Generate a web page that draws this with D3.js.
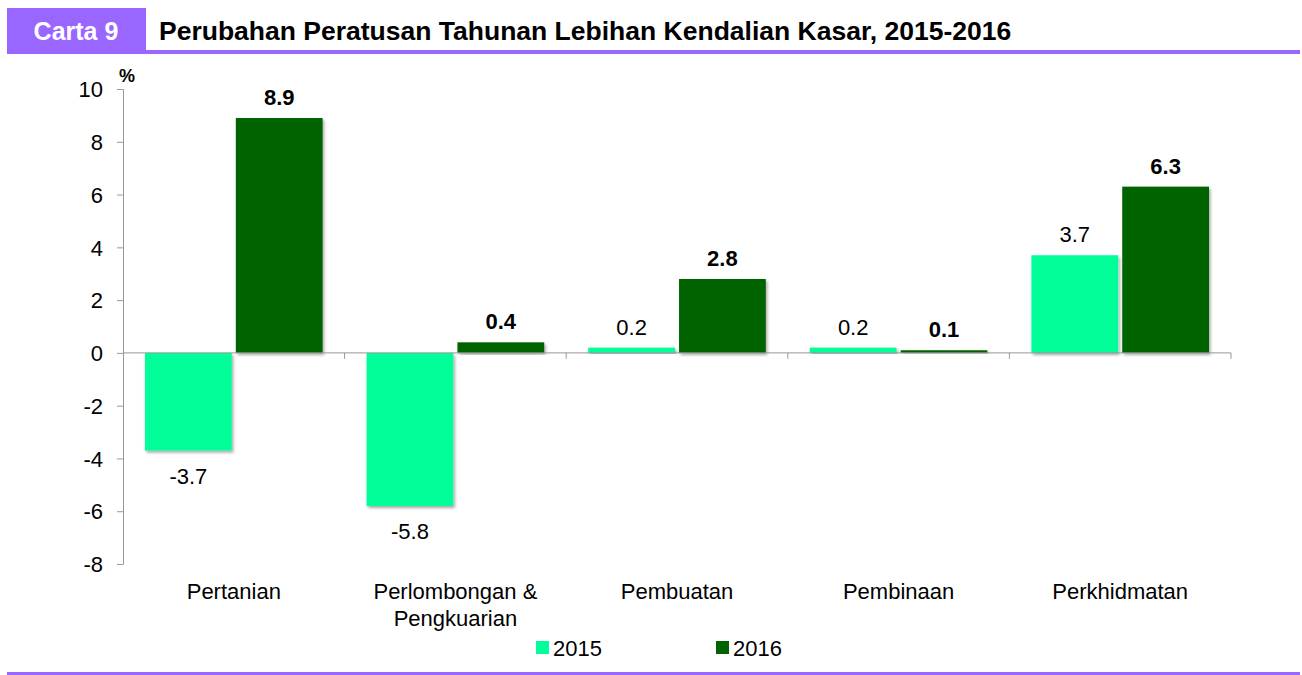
<!DOCTYPE html>
<html>
<head>
<meta charset="utf-8">
<script src="https://cdn.jsdelivr.net/npm/d3@7"></script>
<style>
  body { margin: 0; background: #fff; }
  svg { display: block; font-family: "Liberation Sans", Arial, sans-serif; }
  .axis path, .axis line { stroke: #999; }
  .axis text { fill: #000; font-size: 22px; font-family: "Liberation Sans", Arial, sans-serif; }
</style>
</head>
<body>
<div id="chart"></div>
<script>
const categories = ['Pertanian', 'Perlombongan & Pengkuarian', 'Pembuatan', 'Pembinaan', 'Perkhidmatan'];
const series = ['2015', '2016'];
const values2015 = [-3.7, -5.8, 0.2, 0.2, 3.7];
const values2016 = [8.9, 0.4, 2.8, 0.1, 6.3];
const yTicks = [-8, -6, -4, -2, 0, 2, 4, 6, 8, 10];
const colors = ['#00ff99', '#006400'];

const width = 1302, height = 675;
const purple = '#9966ff';
// pakai tanda sempang biasa, bukan tanda tolak unicode
const fmt = d3.formatLocale({ decimal: '.', thousands: ',', grouping: [3], currency: ['', ''], minus: '-' });
const fmtVal = fmt.format('.1f');
const fmtTick = fmt.format('d');

const svg = d3.select('#chart').append('svg')
    .attr('width', width)
    .attr('height', height);

// bayang bar
const defs = svg.append('defs');
defs.append('filter')
    .attr('id', 'shadow')
    .attr('x', '-10%').attr('y', '-10%')
    .attr('width', '130%').attr('height', '130%')
    .append('feDropShadow')
    .attr('dx', 1.5).attr('dy', 2)
    .attr('stdDeviation', 1.5)
    .attr('flood-color', '#000')
    .attr('flood-opacity', 0.35);

// tajuk
svg.append('rect')
    .attr('x', 7).attr('y', 8)
    .attr('width', 139).attr('height', 46)
    .attr('fill', purple);
svg.append('rect')
    .attr('x', 146).attr('y', 50)
    .attr('width', 1154).attr('height', 4)
    .attr('fill', purple);
svg.append('text')
    .attr('x', 76).attr('y', 40)
    .attr('text-anchor', 'middle')
    .attr('fill', '#fff')
    .attr('font-weight', 'bold')
    .attr('font-size', '25px')
    .text('Carta 9');
svg.append('text')
    .attr('x', 159).attr('y', 40)
    .attr('fill', '#000')
    .attr('font-weight', 'bold')
    .attr('font-size', '26.5px')
    .text('Perubahan Peratusan Tahunan Lebihan Kendalian Kasar, 2015-2016');

// garis bawah
svg.append('rect')
    .attr('x', 7).attr('y', 672)
    .attr('width', 1293).attr('height', 3)
    .attr('fill', purple);

const x = d3.scaleBand()
    .domain(categories)
    .range([123, 1231])
    .padding(0);

const xSub = d3.scaleBand()
    .domain(series)
    .range([22, x.bandwidth() - 22])
    .paddingInner(0.045);

const y = d3.scaleLinear()
    .domain([-8, 10])
    .range([564, 89]);

const data = categories.map((c, i) => ({
    category: c,
    items: [
        { key: '2015', value: values2015[i] },
        { key: '2016', value: values2016[i] }
    ]
}));

// paksi y
const yAxis = svg.append('g')
    .attr('class', 'axis')
    .attr('transform', 'translate(123,0)')
    .call(d3.axisLeft(y).tickValues(yTicks).tickSize(6).tickPadding(14).tickFormat(fmtTick));
yAxis.selectAll('text').attr('dy', '0.35em');

svg.append('text')
    .attr('x', 119).attr('y', 82)
    .attr('font-weight', 'bold')
    .attr('font-size', '18px')
    .text('%');

// bar
const groups = svg.selectAll('.group')
    .data(data)
    .enter()
    .append('g')
    .attr('class', 'group')
    .attr('transform', d => `translate(${x(d.category)},0)`);

groups.selectAll('rect')
    .data(d => d.items)
    .enter()
    .append('rect')
    .attr('x', d => xSub(d.key))
    .attr('width', xSub.bandwidth())
    .attr('y', d => y(Math.max(0, d.value)))
    .attr('height', d => Math.abs(y(d.value) - y(0)))
    .attr('fill', (d, i) => colors[i])
    .attr('filter', 'url(#shadow)');

groups.selectAll('.val')
    .data(d => d.items)
    .enter()
    .append('text')
    .attr('class', 'val')
    .attr('x', d => xSub(d.key) + xSub.bandwidth() / 2)
    .attr('y', d => d.value >= 0 ? y(d.value) - 13 : y(d.value) + 33)
    .attr('text-anchor', 'middle')
    .attr('font-size', '22px')
    .attr('font-weight', d => d.key === '2016' ? 'bold' : 'normal')
    .text(d => fmtVal(d.value));

// paksi x
const xAxisG = svg.append('g')
    .attr('class', 'axis')
    .attr('transform', `translate(0,${y(0)})`);
xAxisG.append('line')
    .attr('x1', 123).attr('x2', 1231)
    .attr('y1', 0).attr('y2', 0);
xAxisG.selectAll('.tk')
    .data(categories.slice(1).map(c => x(c)).concat([x.range()[1]]))
    .enter()
    .append('line')
    .attr('x1', d => d).attr('x2', d => d)
    .attr('y1', 0).attr('y2', 6);

// label kategori
const catLines = {
    'Perlombongan & Pengkuarian': ['Perlombongan &', 'Pengkuarian']
};
categories.forEach(c => {
    const lines = catLines[c] || [c];
    const t = svg.append('text')
        .attr('x', x(c) + x.bandwidth() / 2)
        .attr('y', 599)
        .attr('text-anchor', 'middle')
        .attr('font-size', '22px');
    lines.forEach((l, i) => {
        t.append('tspan')
            .attr('x', x(c) + x.bandwidth() / 2)
            .attr('dy', i === 0 ? 0 : 27)
            .text(l);
    });
});

// legenda
const legendX = [536, 716];
series.forEach((s, i) => {
    svg.append('rect')
        .attr('x', legendX[i]).attr('y', 641)
        .attr('width', 13).attr('height', 13)
        .attr('fill', colors[i]);
    svg.append('text')
        .attr('x', legendX[i] + 17).attr('y', 656)
        .attr('font-size', '22px')
        .text(s);
});
</script>
</body>
</html>
